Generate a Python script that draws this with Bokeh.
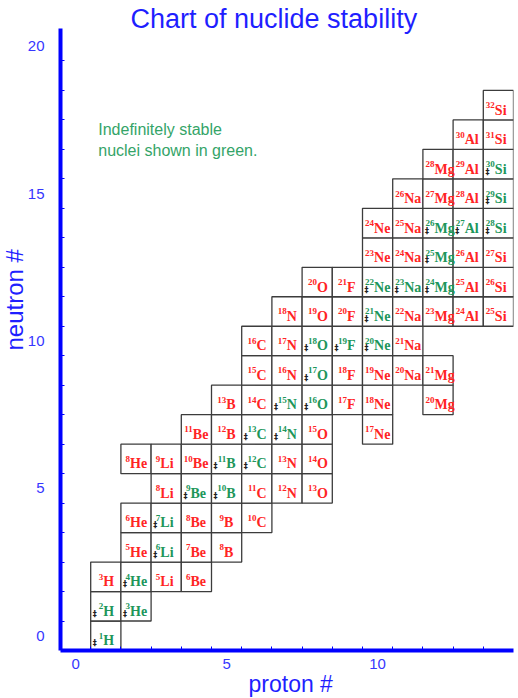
import numpy as np
from bokeh.plotting import figure
from bokeh.models import ColumnDataSource, FixedTicker, Label, Title
from bokeh.core.properties import value
from bokeh.embed import file_html
from bokeh.resources import INLINE

# ---- data -------------------------------------------------------------
symbols = ["n", "H", "He", "Li", "Be", "B", "C", "N", "O", "F",
           "Ne", "Na", "Mg", "Al", "Si"]

# proton number Z, neutron number N, stable flag (1 = indefinitely stable)
proton = [1,
          1, 2,
          1, 2, 3, 4,
          2, 3, 4, 5,
          2, 3, 4, 5, 6,
          3, 4, 5, 6, 7, 8,
          2, 3, 4, 5, 6, 7, 8,
          4, 5, 6, 7, 8, 10,
          5, 6, 7, 8, 9, 10, 12,
          6, 7, 8, 9, 10, 11, 12,
          6, 7, 8, 9, 10, 11,
          7, 8, 9, 10, 11, 12, 13, 14,
          8, 9, 10, 11, 12, 13, 14,
          10, 11, 12, 13, 14,
          10, 11, 12, 13, 14,
          11, 12, 13, 14,
          12, 13, 14,
          13, 14,
          14]
neutron = [0,
           1, 1,
           2, 2, 2, 2,
           3, 3, 3, 3,
           4, 4, 4, 4, 4,
           5, 5, 5, 5, 5, 5,
           6, 6, 6, 6, 6, 6, 6,
           7, 7, 7, 7, 7, 7,
           8, 8, 8, 8, 8, 8, 8,
           9, 9, 9, 9, 9, 9, 9,
           10, 10, 10, 10, 10, 10,
           11, 11, 11, 11, 11, 11, 11, 11,
           12, 12, 12, 12, 12, 12, 12,
           13, 13, 13, 13, 13,
           14, 14, 14, 14, 14,
           15, 15, 15, 15,
           16, 16, 16,
           17, 17,
           18]
stable = [1,
          1, 1,
          0, 1, 0, 0,
          0, 1, 0, 0,
          0, 1, 0, 0, 0,
          0, 1, 1, 0, 0, 0,
          0, 0, 0, 1, 1, 0, 0,
          0, 0, 1, 1, 0, 0,
          0, 0, 1, 1, 0, 0, 0,
          0, 0, 1, 0, 0, 0, 0,
          0, 0, 1, 1, 1, 0,
          0, 0, 0, 1, 0, 0, 0, 0,
          0, 0, 1, 1, 1, 0, 0,
          0, 0, 1, 0, 0,
          0, 0, 1, 1, 1,
          0, 0, 0, 1,
          0, 0, 1,
          0, 0,
          0]

y_tick_labels = [0, 5, 10, 15, 20]
x_tick_labels = [0, 5, 10]

title_text = "Chart of nuclide stability"
x_title = "proton #"
y_title = "neutron #"
note_text = "Indefinitely stable\nnuclei shown in green."

# ---- styling ----------------------------------------------------------
RED = "#ff2424"
GREEN = "#20965a"
BLUE = "#0000ff"
LABEL_BLUE = "#1f1fff"
TICK_BLUE = "#3636ff"

mass = [str(z + n) for z, n in zip(proton, neutron)]
sym = [symbols[z] for z in proton]
colors = [GREEN if s else RED for s in stable]
# approximate pixel widths so that mass number + symbol sit centred in the cell
w_mass = [4.7 * len(m) for m in mass]
w_sym = [10.0 + 6.5 * (len(s) - 1) for s in sym]
anchor = [(wm - ws) / 2.0 for wm, ws in zip(w_mass, w_sym)]

src = ColumnDataSource(dict(Z=proton, N=neutron, mass=mass, sym=sym,
                            color=colors, anchor=anchor))
st_src = ColumnDataSource(dict(
    Z=[z for z, s in zip(proton, stable) if s],
    N=[n for n, s in zip(neutron, stable) if s],
    mark=["‡" for s in stable if s]))

p = figure(width=518, height=698, output_backend="svg", toolbar_location=None,
           x_range=(-0.5, 14.5), y_range=(-0.5, 20.6),
           min_border_left=60, min_border_right=5, min_border_top=28,
           min_border_bottom=48)
p.outline_line_color = None
p.xgrid.visible = False
p.ygrid.visible = False

# cells
p.rect(x="Z", y="N", width=1, height=1, source=src, fill_color="white",
       line_color="#3c3c3c", line_width=1.3)
p.text(x="Z", y="N", text="sym", source=src, text_color="color",
       text_font=value("Liberation Serif"), text_font_style="bold",
       text_font_size="14px", text_align="left", text_baseline="alphabetic",
       x_offset="anchor", y_offset=5)
p.text(x="Z", y="N", text="mass", source=src, text_color="color",
       text_font=value("Liberation Serif"), text_font_style="bold",
       text_font_size="9px", text_align="right", text_baseline="alphabetic",
       x_offset="anchor", y_offset=0)
p.text(x="Z", y="N", text="mark", source=st_src, text_color="#222222",
       text_font=value("DejaVu Sans"), text_font_style="bold",
       text_font_size="8px", text_align="center", text_baseline="middle",
       x_offset=-11, y_offset=8)

# axes
for ax in (p.xaxis[0], p.yaxis[0]):
    ax.axis_line_color = BLUE
    ax.axis_line_width = 4
    ax.major_tick_line_color = None
    ax.minor_tick_line_color = BLUE
    ax.minor_tick_line_width = 1
    ax.minor_tick_in = 4
    ax.minor_tick_out = 0
    ax.major_label_text_color = TICK_BLUE
    ax.major_label_text_font = "Liberation Sans"
    ax.major_label_text_font_size = "15px"

p.xaxis.ticker = FixedTicker(ticks=x_tick_labels,
                             minor_ticks=list(np.arange(0.5, 14.5, 1.0)))
p.yaxis.ticker = FixedTicker(ticks=y_tick_labels,
                             minor_ticks=list(np.arange(0.5, 20.5, 1.0)))
p.xaxis.major_label_standoff = 2
p.yaxis.major_label_standoff = 10

# titles
p.title.text = title_text
p.title.text_color = LABEL_BLUE
p.title.text_font = "Liberation Sans"
p.title.text_font_size = "27px"
p.title.text_font_style = "normal"
p.title.align = "left"
p.title.offset = 70
p.title.standoff = -10

p.add_layout(Title(text=y_title, text_color=LABEL_BLUE,
                   text_font="Liberation Sans", text_font_size="24px",
                   text_font_style="normal", align="left", offset=300,
                   standoff=-6), "left")
p.add_layout(Title(text=x_title, text_color=LABEL_BLUE,
                   text_font="Liberation Sans", text_font_size="23px",
                   text_font_style="normal", align="left", offset=188,
                   standoff=-5), "below")

p.add_layout(Label(x=0.75, y=17.45, text=note_text, text_color="#34a468",
                   text_font="Liberation Sans", text_font_size="16px",
                   text_align="left", text_baseline="top"))

open("out.html", "w").write(file_html(p, INLINE))
